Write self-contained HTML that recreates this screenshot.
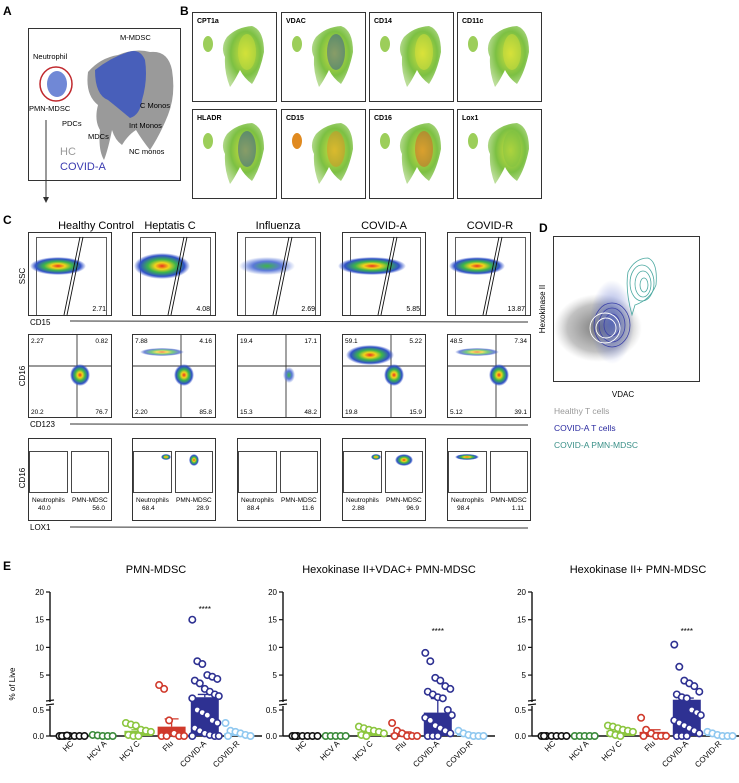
<!DOCTYPE html>
<html><head><meta charset="utf-8">
<style>
html,body{margin:0;padding:0;background:#fff;}
svg{display:block;font-family:"Liberation Sans",Arial,sans-serif;}
</style></head>
<body>
<svg id="fig" width="739" height="783" viewBox="0 0 739 783" xmlns="http://www.w3.org/2000/svg">
<defs>
<radialGradient id="heat" cx="50%" cy="50%" r="50%">
<stop offset="0" stop-color="#e8321e"/><stop offset="0.25" stop-color="#f2d31c"/><stop offset="0.5" stop-color="#3cb54a"/><stop offset="0.8" stop-color="#3050c8"/><stop offset="1" stop-color="#3050c8" stop-opacity="0"/>
</radialGradient>
<radialGradient id="heatlow" cx="50%" cy="50%" r="50%">
<stop offset="0" stop-color="#3cb54a"/><stop offset="0.5" stop-color="#5a78d8"/><stop offset="1" stop-color="#5a78d8" stop-opacity="0"/>
</radialGradient>
<radialGradient id="umapG" cx="55%" cy="45%" r="60%">
<stop offset="0" stop-color="#d6e23a"/><stop offset="0.6" stop-color="#7cc043"/><stop offset="1" stop-color="#8cc653" stop-opacity="0.6"/>
</radialGradient>
<radialGradient id="grayDots" cx="50%" cy="50%" r="50%">
<stop offset="0" stop-color="#777"/><stop offset="0.7" stop-color="#999" stop-opacity="0.6"/><stop offset="1" stop-color="#bbb" stop-opacity="0"/>
</radialGradient>
<radialGradient id="blueDots" cx="50%" cy="50%" r="50%">
<stop offset="0" stop-color="#3a50c0" stop-opacity="0.7"/><stop offset="1" stop-color="#3a50c0" stop-opacity="0"/>
</radialGradient>
</defs>

<!-- Panel A -->
<g>
<text x="3" y="15" font-size="12" font-weight="bold">A</text>
<rect x="28.5" y="28.5" width="152" height="152" fill="none" stroke="#333"/>
<path d="M88 72 Q100 58 118 55 Q135 48 150 52 Q168 50 172 70 Q176 95 168 115 Q160 135 150 150 Q142 140 136 130 Q128 135 122 145 Q115 140 112 130 Q108 150 104 160 Q98 150 100 130 Q94 120 98 105 Q85 95 88 72Z" fill="#9a9a9a"/>
<path d="M95 70 Q110 58 128 52 Q140 48 145 60 Q148 80 142 100 Q140 115 130 118 Q118 108 108 100 Q95 95 95 70Z" fill="#3a55c0" opacity="0.85"/>
<ellipse cx="57" cy="84" rx="10" ry="13" fill="#4060c8" opacity="0.75"/>
<ellipse cx="56" cy="84" rx="16" ry="17" fill="none" stroke="#c0282d" stroke-width="1.5"/>
<text x="33" y="59" font-size="7.5">Neutrophil</text>
<text x="120" y="40" font-size="7.5">M-MDSC</text>
<text x="29" y="111" font-size="7.5">PMN-MDSC</text>
<text x="140" y="108" font-size="7.5">C Monos</text>
<text x="62" y="126" font-size="7.5">PDCs</text>
<text x="129" y="128" font-size="7.5">Int Monos</text>
<text x="88" y="139" font-size="7.5">MDCs</text>
<text x="129" y="154" font-size="7.5">NC monos</text>
<text x="60" y="155" font-size="11" fill="#999">HC</text>
<text x="60" y="170" font-size="11" fill="#3a3ab0">COVID-A</text>
<line x1="46" y1="120" x2="46" y2="198" stroke="#333"/>
<path d="M43 197 L49 197 L46 203Z" fill="#333"/>
</g>

<!-- Panel B -->
<g id="panelB">
<text x="180" y="15" font-size="12" font-weight="bold">B</text>
</g>

<!-- Panel C -->
<g id="panelC">
<text x="3" y="224" font-size="12" font-weight="bold">C</text>
<text x="96" y="229" font-size="11" text-anchor="middle">Healthy Control</text>
<text x="170" y="229" font-size="11" text-anchor="middle">Heptatis C</text>
<text x="278" y="229" font-size="11" text-anchor="middle">Influenza</text>
<text x="384" y="229" font-size="11" text-anchor="middle">COVID-A</text>
<text x="490" y="229" font-size="11" text-anchor="middle">COVID-R</text>
<text x="25" y="276" font-size="8" text-anchor="middle" transform="rotate(-90 25 276)">SSC</text>
<text x="25" y="376" font-size="8" text-anchor="middle" transform="rotate(-90 25 376)">CD16</text>
<text x="25" y="478" font-size="8" text-anchor="middle" transform="rotate(-90 25 478)">CD16</text>
<text x="30" y="325" font-size="8">CD15</text>
<line x1="70" y1="321" x2="528" y2="322" stroke="#333"/>
<text x="30" y="427" font-size="8">CD123</text>
<line x1="70" y1="424" x2="528" y2="425" stroke="#333"/>
<text x="30" y="530" font-size="8">LOX1</text>
<line x1="70" y1="527" x2="528" y2="528" stroke="#333"/>
</g>

<!-- Panel D -->
<g>
<text x="539" y="232" font-size="12" font-weight="bold">D</text>
<rect x="553.5" y="236.5" width="146" height="145" fill="none" stroke="#333"/>
<ellipse cx="598" cy="328" rx="44" ry="34" fill="url(#grayDots)"/>
<ellipse cx="612" cy="322" rx="22" ry="42" fill="url(#blueDots)"/>
<g fill="none" stroke="#3a40a8" stroke-width="0.8">
<ellipse cx="612" cy="325" rx="18" ry="22"/><ellipse cx="612" cy="325" rx="13" ry="17"/><ellipse cx="612" cy="325" rx="8" ry="11"/>
</g>
<g fill="none" stroke="#fff" stroke-width="0.9">
<ellipse cx="605" cy="328" rx="15" ry="15"/><ellipse cx="606" cy="328" rx="10" ry="10"/>
</g>
<g fill="none" stroke="#4aa8a0" stroke-width="0.8">
<path d="M632 315 Q625 290 628 272 Q635 258 648 258 Q658 262 656 285 Q650 300 635 305Z"/>
<ellipse cx="642" cy="283" rx="12" ry="18"/><ellipse cx="643" cy="284" rx="8" ry="13"/><ellipse cx="644" cy="285" rx="4" ry="7"/>
</g>
<text x="545" y="309" font-size="8" text-anchor="middle" transform="rotate(-90 545 309)">Hexokinase II</text>
<text x="623" y="397" font-size="8" text-anchor="middle">VDAC</text>
<text x="554" y="414" font-size="8.5" fill="#999">Healthy T cells</text>
<text x="554" y="431" font-size="8.5" fill="#2a2aa0">COVID-A T cells</text>
<text x="554" y="448" font-size="8.5" fill="#3a9088">COVID-A PMN-MDSC</text>
</g>

<!-- Panel E -->
<g id="panelE">
<text x="3" y="570" font-size="12" font-weight="bold">E</text>
<text x="15" y="684" font-size="8" text-anchor="middle" transform="rotate(-90 15 684)">% of Live</text>
</g>
</svg>

<script>
// ===== Panel E data =====
const groups = ["HC", "HCV A", "HCV C", "Flu", "COVID-A", "COVID-R"];
const groupColors = ["#111111", "#3a8a3a", "#8cc63f", "#d03a2c", "#2e3192", "#8fc8f0"];
const yTicks = [0, 0.5, 5, 10, 15, 20];
const yTickLabels = ["0.0", "0.5", "5", "10", "15", "20"];
const chartTitles = ["PMN-MDSC", "Hexokinase II+VDAC+ PMN-MDSC", "Hexokinase II+ PMN-MDSC"];

const c1Values = [
  [0,0,0,0,0,0,0,0.01],
  [0.02,0.01,0,0,0],
  [0.25,0.22,0.2,0.12,0.1,0.08,0.02,0,0],
  [3.2,2.5,0.3,0.05,0,0,0,0],
  [15,7.5,7,5,4.7,4.3,4,3.5,2.5,2,1.5,1.2,0.8,0.5,0.45,0.4,0.3,0.25,0.15,0.1,0.05,0.02,0,0,0],
  [0.25,0.1,0.08,0.05,0.02,0,0]
];
const c2Values = [
  [0,0,0,0,0,0,0],
  [0,0,0,0,0],
  [0.18,0.15,0.12,0.1,0.08,0.05,0.02,0],
  [0.25,0.1,0.05,0,0,0,0],
  [9,7.5,4.5,4,3,2.5,2,1.5,1,0.8,0.5,0.4,0.35,0.3,0.2,0.15,0.1,0.05,0,0,0],
  [0.1,0.05,0.02,0,0,0]
];
const c3Values = [
  [0,0,0,0,0,0,0],
  [0,0,0,0,0],
  [0.2,0.18,0.15,0.12,0.1,0.08,0.05,0.02,0],
  [0.35,0.12,0.05,0,0,0,0],
  [10.5,6.5,4,3.5,3,2,1.5,1,0.8,0.5,0.45,0.4,0.3,0.25,0.2,0.15,0.1,0.05,0,0,0],
  [0.08,0.05,0.02,0,0,0]
];
const c1Means = [0, 0, 0.1, 0.18, 1.0, 0.05];
const c2Means = [0, 0, 0.08, 0.05, 0.45, 0.03];
const c3Means = [0, 0, 0.1, 0.08, 0.55, 0.03];
const c1Err = [0, 0, 0.02, 0.15, 0.5, 0.02];
const c2Err = [0, 0, 0.02, 0.03, 0.3, 0.01];
const c3Err = [0, 0, 0.02, 0.04, 0.3, 0.01];
const sigLabels = ["", "", "", "", "****", ""];

const NS = "http://www.w3.org/2000/svg";
function mk(tag, attrs, parent) {
  const e = document.createElementNS(NS, tag);
  for (const k in attrs) e.setAttribute(k, attrs[k]);
  parent.appendChild(e);
  return e;
}
function yScale(v) {
  if (v <= 0.5) return 736 - (v / 0.5) * 26;
  return 700 - ((v - 0.5) / 19.5) * 108;
}
const panelE = document.getElementById("panelE");
const chartAxisX = [50, 283, 532];
const chartSpacing = [33.2, 33.2, 33.2];
const chartSets = [[c1Values, c1Means, c1Err], [c2Values, c2Means, c2Err], [c3Values, c3Means, c3Err]];

chartSets.forEach((set, ci) => {
  const ax = chartAxisX[ci];
  const g = mk("g", {}, panelE);
  
  
  const xPos = i => ax + 22 + i * chartSpacing[ci];
  const title = mk("text", {x: ax + 106, y: 573, "font-size": 11, "text-anchor": "middle"}, g);
  title.textContent = chartTitles[ci];
  
  
  const ya = mk("path", {d: `M${ax} 592 L${ax} 702 M${ax} 706 L${ax} 736`, stroke: "#111", "stroke-width": 1.4, fill: "none"}, g);
  
  
  const br = mk("path", {d: `M${ax-4} 701 L${ax+4} 700 M${ax-4} 705 L${ax+4} 704`, stroke: "#111", "stroke-width": 1.2}, g);
  
  
  const xa = mk("line", {x1: ax, y1: 736, x2: Math.min(ax + 212, 739), y2: 736, stroke: "#111", "stroke-width": 1.4}, g);
  
  
  yTicks.forEach((t, ti) => {
    const y = yScale(t);
    const tk = mk("line", {x1: ax - 4, y1: y, x2: ax, y2: y, stroke: "#111", "stroke-width": 1.2}, g);
    
    
    const tl = mk("text", {x: ax - 6, y: y + 3, "font-size": 8, "text-anchor": "end"}, g);
    tl.textContent = yTickLabels[ti];
    
    
  });
  const [vals, means, errs] = set;
  groups.forEach((gname, gi) => {
    const cx = xPos(gi);
    const col = groupColors[gi];
    if (means[gi] > 0) {
      const bar = mk("rect", {x: cx - 14, y: yScale(means[gi]), width: 28, height: 736 - yScale(means[gi]), fill: col}, g);
      
      
      const ey = yScale(means[gi] + errs[gi]);
      const eb = mk("path", {d: `M${cx} ${yScale(means[gi])} L${cx} ${ey} M${cx-7} ${ey} L${cx+7} ${ey}`, stroke: col, "stroke-width": 1.3, fill: "none"}, g);
      
      
    }
    vals[gi].forEach((v, pi) => {
      const off = ((pi % 6) - 2.5) * 5 + (Math.floor(pi / 6) % 2) * 2.5;
      const pt = mk("circle", {cx: cx + Math.max(-14, Math.min(14, off)), cy: yScale(v), r: 3.2, fill: "#fff", stroke: col, "stroke-width": 1.6}, g);
      
      
    });
    if (sigLabels[gi]) {
      const s = mk("text", {x: cx, y: ci === 0 ? 612 : 634, "font-size": 8, "text-anchor": "middle"}, g);
      s.textContent = sigLabels[gi];
      
      
    }
    const xl = mk("text", {x: cx + 2, y: 744, "font-size": 8, "text-anchor": "end", transform: `rotate(-45 ${cx + 2} 744)`}, g);
    xl.textContent = gname;
    
    
  });
});

// ===== Panel B: UMAP feature plots =====
const markers = ["CPT1a", "VDAC", "CD14", "CD11c", "HLADR", "CD15", "CD16", "Lox1"];
const markerTint = ["#cfe03a", "#2a4aa0", "#e0e23a", "#d8e03a", "#2a4aa0", "#e08a20", "#e05020", "#7cc043"];
const panelB = document.getElementById("panelB");
const bx = [192, 281, 369, 457];
const by = [12, 109];
markers.forEach((m, i) => {
  const x = bx[i % 4], y = by[Math.floor(i / 4)];
  const g = mk("g", {}, panelB);
  
  
  mk("rect", {x: x + 0.5, y: y + 0.5, width: 84, height: 89, fill: "#fff", stroke: "#333"}, g);
  mk("path", {d: `M${x+35} ${y+25} Q${x+45} ${y+15} ${x+60} ${y+14} Q${x+72} ${y+18} ${x+72} ${y+40} Q${x+68} ${y+60} ${x+60} ${y+72} Q${x+52} ${y+66} ${x+48} ${y+58} Q${x+42} ${y+70} ${x+38} ${y+75} Q${x+32} ${y+60} ${x+33} ${y+45} Q${x+28} ${y+35} ${x+35} ${y+25}Z`, fill: "url(#umapG)"}, g);
  mk("ellipse", {cx: x + 16, cy: y + 32, rx: 5, ry: 8, fill: i === 5 ? "#e08a20" : "#9cce5a"}, g);
  mk("ellipse", {cx: x + 55, cy: y + 40, rx: 9, ry: 18, fill: markerTint[i], opacity: 0.45}, g);
  const t = mk("text", {x: x + 5, y: y + 11, "font-size": 7, "font-weight": "bold"}, g);
  t.textContent = m;
  
  
});

// ===== Panel C: flow plots =====
const cols = [28, 132, 237, 342, 447];
const row1Pct = ["2.71", "4.08", "2.69", "5.85", "13.87"];
const q = [["2.27","0.82","20.2","76.7"],["7.88","4.16","2.20","85.8"],["19.4","17.1","15.3","48.2"],["59.1","5.22","19.8","15.9"],["48.5","7.34","5.12","39.1"]];
const neut = ["40.0", "68.4", "88.4", "2.88", "98.4"];
const pmn = ["56.0", "28.9", "11.6", "96.9", "1.11"];
const panelC = document.getElementById("panelC");
cols.forEach((x, i) => {
  const w = 83;
  let g = mk("g", {}, panelC);
  
  
  mk("rect", {x: x + 0.5, y: 232.5, width: w, height: 83, fill: "#fff", stroke: "#333"}, g);
  mk("rect", {x: x + 8.5, y: 237.5, width: 70, height: 78, fill: "none", stroke: "#333", "stroke-width": 0.8}, g);
  mk("ellipse", {cx: x + 30, cy: 266, rx: i === 3 ? 34 : 28, ry: i === 1 ? 13 : 9, fill: i === 2 ? "url(#heatlow)" : "url(#heat)"}, g);
  mk("path", {d: `M${x+36} 315 L${x+52} 237 M${x+39} 315 L${x+55} 237`, stroke: "#111", "stroke-width": 0.9}, g);
  let t = mk("text", {x: x + 78, y: 311, "font-size": 7, "text-anchor": "end"}, g);
  t.textContent = row1Pct[i];
  
  
  g = mk("g", {}, panelC);
  
  
  mk("rect", {x: x + 0.5, y: 334.5, width: w, height: 83, fill: "#fff", stroke: "#333"}, g);
  mk("path", {d: `M${x+49} 334 L${x+49} 417 M${x} 366 L${x+83} 366`, stroke: "#333", "stroke-width": 0.9}, g);
  if (i === 1 || i === 4) mk("ellipse", {cx: x + 30, cy: 352, rx: 22, ry: 4, fill: "url(#heat)", opacity: 0.7}, g);
  if (i === 3) mk("ellipse", {cx: x + 28, cy: 355, rx: 24, ry: 10, fill: "url(#heat)"}, g);
  mk("ellipse", {cx: x + 52, cy: 375, rx: i === 2 ? 6 : 10, ry: i === 2 ? 8 : 11, fill: i === 2 ? "url(#heatlow)" : "url(#heat)"}, g);
  const qp = [[x + 3, 343, "start"], [x + 80, 343, "end"], [x + 3, 414, "start"], [x + 80, 414, "end"]];
  qp.forEach((p, k) => {
    t = mk("text", {x: p[0], y: p[1], "font-size": 6.5, "text-anchor": p[2]}, g);
    t.textContent = q[i][k];
    
    
  });
  g = mk("g", {}, panelC);
  
  
  mk("rect", {x: x + 0.5, y: 438.5, width: w, height: 82, fill: "#fff", stroke: "#333"}, g);
  mk("rect", {x: x + 1.5, y: 451.5, width: 38, height: 41, fill: "none", stroke: "#333", "stroke-width": 0.9}, g);
  mk("rect", {x: x + 43.5, y: 451.5, width: 37, height: 41, fill: "none", stroke: "#333", "stroke-width": 0.9}, g);
  if (i === 1 || i === 3 || i === 4) mk("ellipse", {cx: x + (i === 4 ? 20 : 34), cy: 457, rx: i === 4 ? 12 : 5, ry: 3, fill: "url(#heat)"}, g);
  if (i === 1 || i === 3) mk("ellipse", {cx: x + 62, cy: 460, rx: i === 3 ? 9 : 5, ry: 6, fill: "url(#heat)"}, g);
  t = mk("text", {x: x + 4, y: 502, "font-size": 6.5}, g);
  t.textContent = "Neutrophils";
  
  
  t = mk("text", {x: x + 44, y: 502, "font-size": 6.5}, g);
  t.textContent = "PMN-MDSC";
  
  
  t = mk("text", {x: x + 10, y: 510, "font-size": 6.5}, g);
  t.textContent = neut[i];
  
  
  t = mk("text", {x: x + 77, y: 510, "font-size": 6.5, "text-anchor": "end"}, g);
  t.textContent = pmn[i];
  
  
});
</script>
</body></html>
